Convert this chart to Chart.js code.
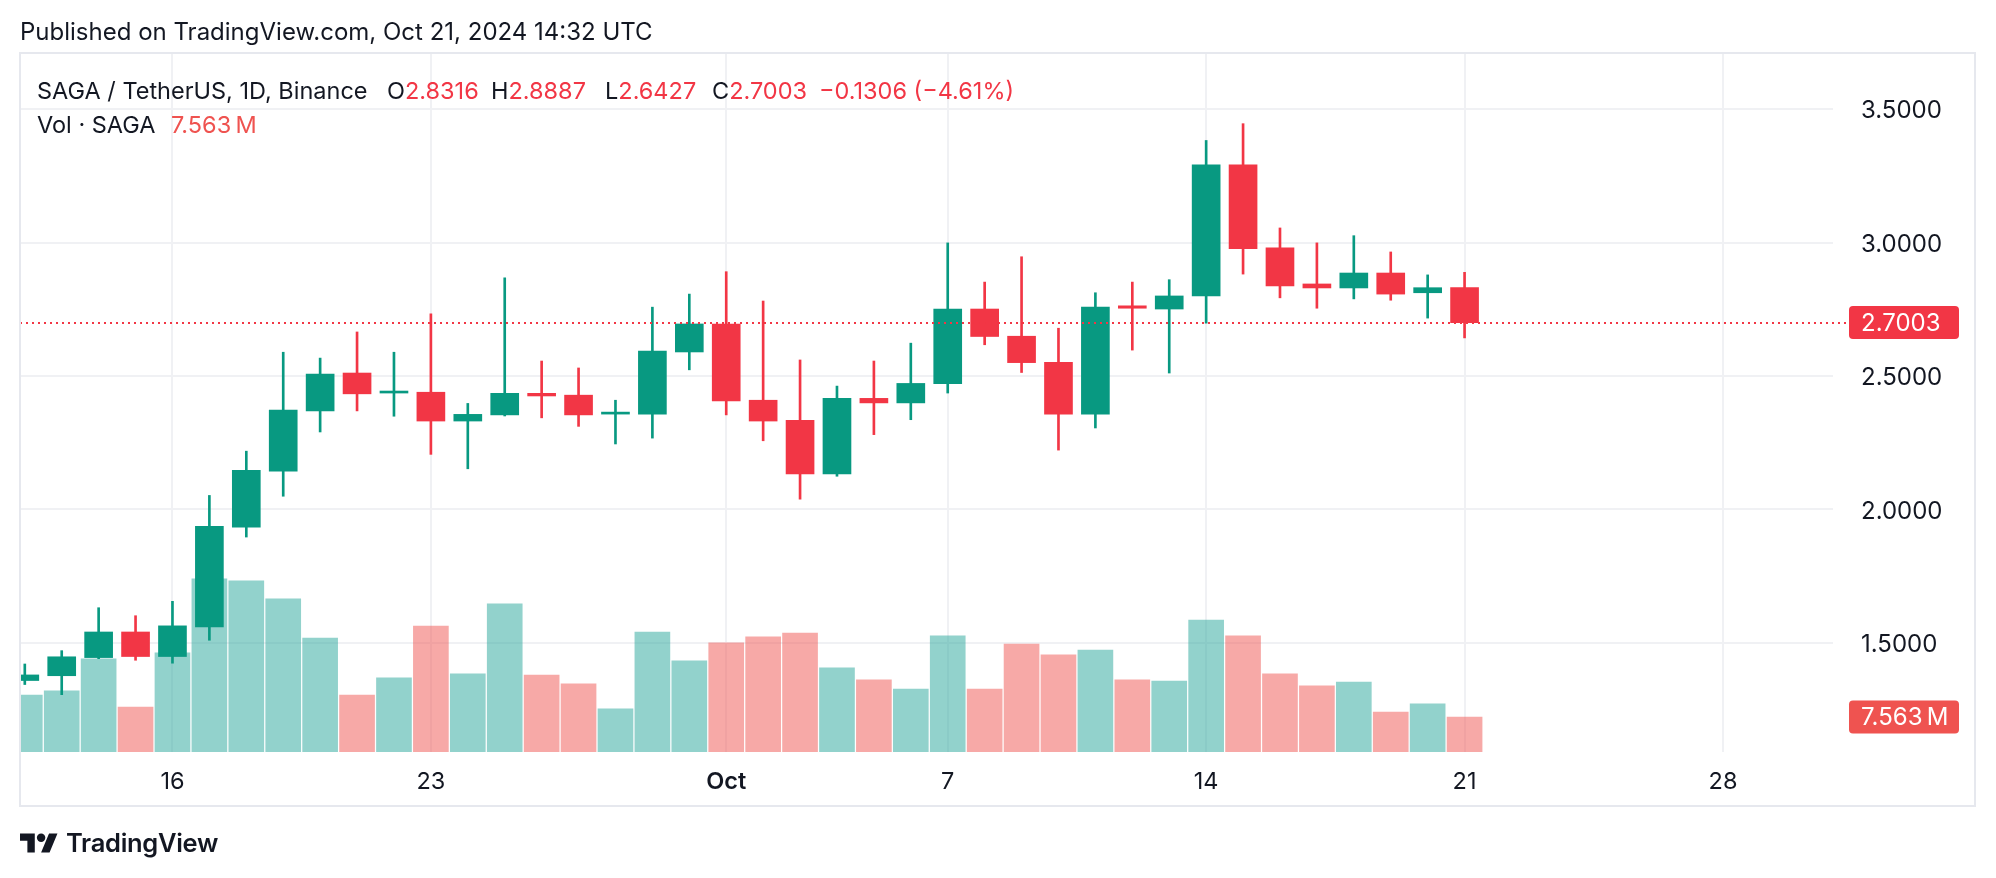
<!DOCTYPE html>
<html>
<head>
<meta charset="utf-8">
<title>SAGA / TetherUS 1D</title>
<script src="https://cdn.jsdelivr.net/npm/chart.js@4.4.1/dist/chart.umd.min.js"></script>
<style>
  html, body { margin: 0; padding: 0; background: #fff; }
  #wrap { position: relative; width: 1996px; height: 878px; overflow: hidden;
          font-family: Inter, "Noto Sans", sans-serif; color: #131722; }
  #chart { position: absolute; left: 0; top: 0; }
  .txt { position: absolute; white-space: nowrap; font-size: 23.5px; line-height: 26px; }
  .up { color: #F23645; }
  .vol { color: #EF5350; }
  #logo { position: absolute; left: 20px; top: 829px; }
  #logoText { position: absolute; left: 66px; top: 828px; font-size: 25.5px; font-weight: 600;
              line-height: 30px; letter-spacing: -0.3px; }
</style>
</head>
<body>
<div id="wrap">
  <canvas id="chart" width="1996" height="878"></canvas>

  <div class="txt" style="left:20px; top:19px; font-size:24px">Published on TradingView.com, Oct 21, 2024 14:32 UTC</div>

  <div class="txt" style="left:37px; top:78px">SAGA / TetherUS, 1D, Binance</div>
  <div class="txt" style="left:387px; top:78px">O<span class="up">2.8316</span></div>
  <div class="txt" style="left:491px; top:78px">H<span class="up">2.8887</span></div>
  <div class="txt" style="left:605px; top:78px">L<span class="up">2.6427</span></div>
  <div class="txt" style="left:712px; top:78px">C<span class="up">2.7003</span></div>
  <div class="txt up" style="left:819px; top:78px">−0.1306 (−4.61%)</div>

  <div class="txt" style="left:37px; top:112px">Vol · SAGA</div>
  <div class="txt vol" style="left:171px; top:112px">7.563&#8239;M</div>

  <svg id="logo" width="38" height="30" viewBox="0 0 36 28">
    <path fill="#131722" d="M14 22H7V11H0V4h14v18zM28 22h-8l7.5-18h8L28 22z"/>
    <circle fill="#131722" cx="20" cy="8" r="4"/>
  </svg>
  <div id="logoText">TradingView</div>
</div>

<script>
// daily candles, Sep 12 .. Oct 21 2024 (x = day index from Sep 12)
const days = ['Sep 12', 'Sep 13', 'Sep 14', 'Sep 15', 'Sep 16', 'Sep 17', 'Sep 18', 'Sep 19',
    'Sep 20', 'Sep 21', 'Sep 22', 'Sep 23', 'Sep 24', 'Sep 25', 'Sep 26', 'Sep 27', 'Sep 28',
    'Sep 29', 'Sep 30', 'Oct 1', 'Oct 2', 'Oct 3', 'Oct 4', 'Oct 5', 'Oct 6', 'Oct 7', 'Oct 8',
    'Oct 9', 'Oct 10', 'Oct 11', 'Oct 12', 'Oct 13', 'Oct 14', 'Oct 15', 'Oct 16', 'Oct 17',
    'Oct 18', 'Oct 19', 'Oct 20', 'Oct 21'];

const opens = [1.358, 1.376, 1.444, 1.540, 1.448, 1.559, 1.933, 2.143, 2.369, 2.511,
    2.436, 2.439, 2.331, 2.354, 2.435, 2.428, 2.357, 2.357, 2.590, 2.695,
    2.409, 2.334, 2.133, 2.416, 2.399, 2.471, 2.751, 2.649, 2.551, 2.357,
    2.763, 2.751, 2.800, 3.292, 2.980, 2.845, 2.830, 2.886, 2.812, 2.8316];
const highs = [1.420, 1.470, 1.631, 1.601, 1.655, 2.052, 2.218, 2.589, 2.567, 2.665,
    2.589, 2.733, 2.397, 2.868, 2.556, 2.530, 2.409, 2.758, 2.807, 2.891,
    2.781, 2.560, 2.462, 2.556, 2.623, 2.999, 2.852, 2.947, 2.679, 2.812,
    2.852, 2.861, 3.383, 3.446, 3.055, 2.999, 3.026, 2.965, 2.879, 2.8887];
const lows = [1.343, 1.305, 1.440, 1.434, 1.423, 1.509, 1.896, 2.049, 2.290, 2.369,
    2.349, 2.206, 2.152, 2.350, 2.343, 2.311, 2.245, 2.267, 2.523, 2.354,
    2.257, 2.038, 2.124, 2.280, 2.336, 2.436, 2.617, 2.513, 2.222, 2.305,
    2.597, 2.511, 2.698, 2.882, 2.793, 2.754, 2.789, 2.784, 2.717, 2.6427];
const closes = [1.379, 1.447, 1.540, 1.448, 1.563, 1.936, 2.146, 2.372, 2.507, 2.433,
    2.442, 2.331, 2.356, 2.435, 2.425, 2.354, 2.364, 2.593, 2.695, 2.406,
    2.331, 2.133, 2.416, 2.399, 2.472, 2.751, 2.648, 2.550, 2.357, 2.758,
    2.754, 2.800, 3.292, 2.977, 2.838, 2.830, 2.886, 2.807, 2.831, 2.7003];
// volume in millions of SAGA
const volumes = [12.3, 13.2, 20.1, 9.7, 21.4, 37.4, 37.0, 33.1, 24.6, 12.3,
    16.0, 27.2, 16.9, 32.0, 16.6, 14.7, 9.3, 25.9, 19.7, 23.6,
    24.9, 25.7, 18.2, 15.6, 13.6, 25.1, 13.6, 23.3, 21.0, 22.0,
    15.6, 15.3, 28.5, 25.1, 16.9, 14.3, 15.1, 8.6, 10.4, 7.563];

const tickDays = [4, 11, 19, 25, 32, 39, 46];
const tickLabels = ['16', '23', 'Oct', '7', '14', '21', '28'];
const priceTicks = [1.5, 2.0, 2.5, 3.0, 3.5];

const UP = '#089981', DOWN = '#F23645';
const VOL_UP = 'rgba(38, 166, 154, 0.5)', VOL_DOWN = 'rgba(239, 83, 80, 0.5)';
const FONT = 'Inter, "Noto Sans", sans-serif';

const isUp = i => closes[i] >= opens[i];
const last = closes.length - 1;

// last price line + price / volume tags + frame
const overlayPlugin = {
    id: 'overlay',
    beforeDraw(chart) {
        const ctx = chart.ctx;
        ctx.save();
        ctx.fillStyle = '#ffffff';
        ctx.fillRect(0, 0, chart.width, chart.height);
        ctx.restore();
    },
    afterDatasetsDraw(chart) {
        const { ctx, chartArea } = chart;
        const y = Math.round(chart.scales.y.getPixelForValue(closes[last]));
        ctx.save();
        ctx.strokeStyle = DOWN;
        ctx.lineWidth = 2;
        ctx.setLineDash([2, 4]);
        ctx.beginPath();
        ctx.moveTo(chartArea.left, y);
        ctx.lineTo(1849, y);
        ctx.stroke();
        ctx.restore();
    },
    afterDraw(chart) {
        const ctx = chart.ctx;
        ctx.save();
        // frame
        ctx.strokeStyle = '#e6e8ee';
        ctx.lineWidth = 2;
        ctx.strokeRect(20, 53, 1955, 753);

        const tag = (y, color, text) => {
            ctx.fillStyle = color;
            ctx.beginPath();
            ctx.roundRect(1849, y - 16.5, 110, 33, 4);
            ctx.fill();
            ctx.fillStyle = '#ffffff';
            ctx.font = '24px ' + FONT;
            ctx.textBaseline = 'middle';
            ctx.textAlign = 'left';
            ctx.fillText(text, 1861, y + 1);
        };
        tag(chart.scales.y.getPixelForValue(closes[last]), DOWN, closes[last].toFixed(4));
        tag(chart.scales.yVol.getPixelForValue(volumes[last]), '#EF5350', volumes[last].toFixed(3) + '\u202fM');
        ctx.restore();
    }
};

new Chart(document.getElementById('chart'), {
    type: 'bar',
    data: {
        datasets: [
            {
                // candle bodies
                data: opens.map((o, i) => ({ x: i, y: [o, closes[i]] })),
                backgroundColor: opens.map((o, i) => isUp(i) ? UP : DOWN),
                barThickness: 28,
                minBarLength: 2,
                grouped: false,
                yAxisID: 'y',
                order: 1
            },
            {
                // wicks
                data: lows.map((l, i) => ({ x: i, y: [l, highs[i]] })),
                backgroundColor: lows.map((l, i) => isUp(i) ? UP : DOWN),
                barThickness: 2,
                grouped: false,
                yAxisID: 'y',
                order: 2
            },
            {
                // volume
                data: volumes.map((v, i) => ({ x: i, y: v })),
                backgroundColor: volumes.map((v, i) => isUp(i) ? VOL_UP : VOL_DOWN),
                barThickness: 35,
                grouped: false,
                yAxisID: 'yVol',
                order: 3
            }
        ]
    },
    options: {
        responsive: false,
        animation: false,
        layout: { padding: { left: 20, top: 53, right: 23, bottom: 73 } },
        plugins: {
            legend: { display: false },
            tooltip: { enabled: false }
        },
        scales: {
            x: {
                type: 'linear',
                min: -0.13,
                max: 48.98,
                offset: false,
                afterBuildTicks: scale => {
                    scale.ticks = tickDays.map(v => ({ value: v }));
                },
                afterFit: scale => { scale.height = 53; },
                ticks: {
                    autoSkip: false,
                    maxRotation: 0,
                    padding: 16,
                    color: '#131722',
                    font: ctx => ({
                        family: FONT,
                        size: 23.5,
                        weight: ctx.tick && ctx.tick.value === 19 ? '600' : '400'
                    }),
                    callback: v => tickLabels[tickDays.indexOf(v)]
                },
                grid: { color: '#f0f1f4', lineWidth: 2, drawTicks: false, offset: false },
                border: { display: false }
            },
            y: {
                position: 'right',
                min: 1.090,
                max: 3.711,
                afterBuildTicks: scale => {
                    scale.ticks = priceTicks.map(v => ({ value: v }));
                },
                afterFit: scale => { scale.width = 140; },
                ticks: {
                    padding: 28,
                    labelOffset: 2,
                    color: '#131722',
                    font: { family: FONT, size: 24 },
                    callback: v => v.toFixed(4)
                },
                grid: { color: '#f0f1f4', lineWidth: 2, drawTicks: false },
                border: { display: false }
            },
            yVol: {
                display: false,
                min: 0,
                max: 151
            }
        }
    },
    plugins: [overlayPlugin]
});
</script>
</body>
</html>
